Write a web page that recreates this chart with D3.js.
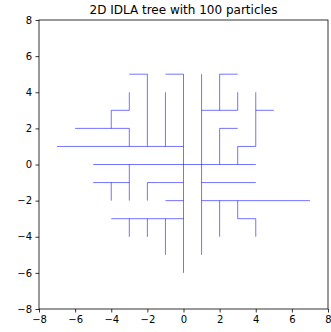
<!DOCTYPE html>
<html><head><meta charset="utf-8">
<script src="https://cdn.jsdelivr.net/npm/d3@7"></script>
<style>body{margin:0;background:#fff}svg{display:block}</style>
</head><body>
<svg id="c" width="331" height="332"></svg>
<script>
const title = "2D IDLA tree with 100 particles";
const xTicks = [-8,-6,-4,-2,0,2,4,6,8];
const yTicks = [-8,-6,-4,-2,0,2,4,6,8];
// tree branches as polylines [x,y] on integer lattice
const branches = [
  [[0,-6],[0,5]],
  [[-5,0],[4,0]],
  [[-7,1],[0,1]],
  [[1,-5],[1,5]],
  [[-1,5],[0,5]],
  [[-1,1],[-1,4]],
  [[-3,5],[-2,5],[-2,1]],
  [[-3,1],[-3,2]],
  [[-6,2],[-3,2]],
  [[-4,2],[-4,3],[-3,3],[-3,4]],
  [[2,3],[2,5],[3,5]],
  [[1,3],[3,3],[3,4]],
  [[5,3],[4,3]],
  [[4,4],[4,1],[3,1],[3,0]],
  [[3,2],[2,2],[2,0]],
  [[-3,0],[-3,-2]],
  [[-5,-1],[-3,-1]],
  [[-4,-1],[-4,-2]],
  [[0,-1],[-2,-1],[-2,-2]],
  [[-1,-2],[0,-2]],
  [[-4,-3],[0,-3]],
  [[-3,-3],[-3,-4]],
  [[-2,-3],[-2,-4]],
  [[-1,-3],[-1,-5]],
  [[1,-1],[4,-1]],
  [[1,-2],[7,-2]],
  [[2,-2],[2,-4]],
  [[3,-2],[3,-3],[4,-3],[4,-4]]
];
const svg = d3.select("#c");
const L = 39, R = 328, T = 20, B = 309;
const x = d3.scaleLinear().domain([-8,8]).range([L,R]);
const y = d3.scaleLinear().domain([-8,8]).range([B,T]);
const font = "DejaVu Sans, sans-serif";
const line = d3.line().x(d=>x(d[0])).y(d=>y(d[1]));
svg.append("g").selectAll("path").data(branches).join("path")
  .attr("d", line).attr("fill","none").attr("stroke","blue")
  .attr("stroke-opacity",0.55).attr("stroke-width",1);
const fmt = d => d < 0 ? "\u2212" + Math.abs(d) : String(d);
const xa = svg.append("g").attr("transform",`translate(0,${B})`)
  .call(d3.axisBottom(x).tickValues(xTicks).tickFormat(fmt).tickSize(3.5).tickPadding(3.5));
const ya = svg.append("g").attr("transform",`translate(${L},0)`)
  .call(d3.axisLeft(y).tickValues(yTicks).tickFormat(fmt).tickSize(3.5).tickPadding(3.5));
[xa,ya].forEach(a=>{
  a.select(".domain").remove();
  a.selectAll("text").attr("font-family",font).attr("font-size",10).attr("fill","#000");
  a.selectAll("line").attr("stroke","#000").attr("stroke-width",0.8);
});
svg.append("rect").attr("x",L).attr("y",T).attr("width",R-L).attr("height",B-T)
  .attr("fill","none").attr("stroke","#000").attr("stroke-width",0.8);
svg.append("text").attr("x",(L+R)/2).attr("y",14).attr("text-anchor","middle")
  .attr("font-family",font).attr("font-size",12).text(title);
</script>
</body></html>
